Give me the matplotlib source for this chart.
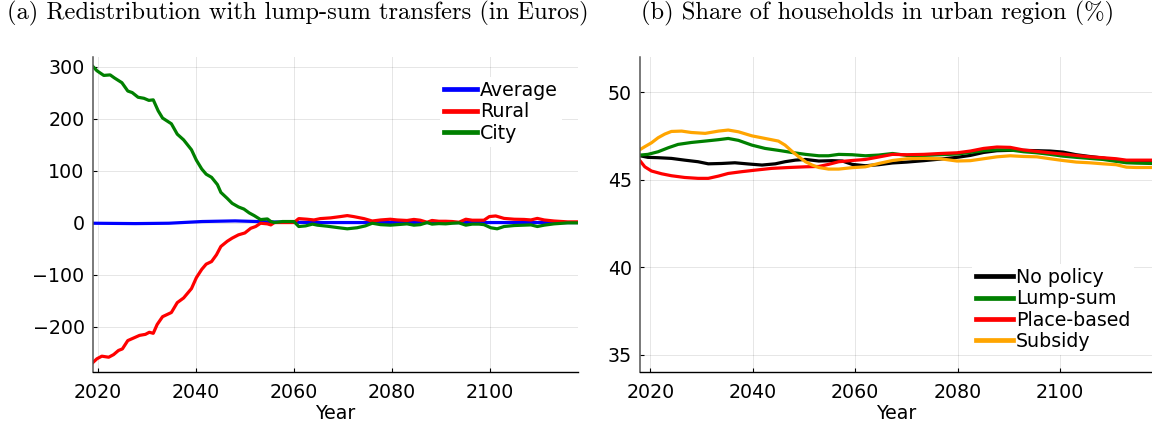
import matplotlib
matplotlib.use("Agg")
import matplotlib.pyplot as plt

# ---------------- Panel (a): redistribution (Euros) ----------------
years_avg = [2019, 2027.6, 2034.5, 2041.3, 2048, 2055, 2059.5, 2065, 2080, 2100, 2118]
avg = [-1.3, -2, -1.3, 2, 3.2, 1.3, 0.6, 0, 0, 0, 0]

years_rural = [2019, 2019.8, 2020.8, 2022.2, 2023.2, 2024.2, 2025, 2026.1, 2027.3, 2028.5,
               2029.7, 2030.5, 2031.3, 2032.1, 2033.2, 2035, 2036.2, 2037.5, 2039.1, 2040.1,
               2041.2, 2042.1, 2043.2, 2044.2, 2045.1, 2046.4, 2047.4, 2048.7, 2050, 2051.2,
               2052.2, 2053.2, 2054.6, 2055.3, 2056, 2057.7, 2060, 2061, 2062.7, 2064.1,
               2065.4, 2067.5, 2069.5, 2070.9, 2072.2, 2074.3, 2076, 2077.7, 2079.7, 2081.1,
               2083.1, 2084.5, 2085.8, 2087.2, 2088.2, 2089.6, 2091, 2092.3, 2093.7, 2095.1,
               2096.4, 2097.8, 2098.8, 2099.9, 2101.2, 2102.9, 2105, 2107, 2108.4, 2109.7,
               2111.1, 2113.1, 2115.9, 2118]
rural = [-269, -262, -257, -259, -254, -246, -243, -227, -222, -217,
         -215, -211, -213, -196, -181, -173, -154, -145, -127, -106,
         -90, -80, -75, -62, -46, -36, -30, -23.6, -20, -11,
         -7.6, -1.3, -2.5, -4.5, 0, 0, 0, 7.6, 6.4, 5,
         7.6, 9, 11.5, 13.4, 11.5, 7.6, 3, 5, 6.4, 5,
         4, 6, 4.5, 0.6, 4, 2.5, 2.5, 2, 0.6, 6.4,
         4.5, 4.5, 4.5, 11.5, 12.7, 8, 6.4, 6, 5, 8,
         5, 3, 1.3, 1.3]

years_city = [2019, 2019.8, 2021.2, 2022.5, 2023.4, 2024.9, 2026.1, 2027, 2028.2, 2029.4,
              2030.4, 2031.3, 2032.3, 2033.2, 2035, 2036.2, 2037.5, 2039.1, 2040.1, 2041.2,
              2042.1, 2043.2, 2044.4, 2045.1, 2046.4, 2047.4, 2048.7, 2049.8, 2050.9, 2051.9,
              2053.2, 2054.6, 2055.3, 2056, 2057.7, 2060, 2061, 2062.4, 2063.8, 2064.8,
              2066.8, 2068.8, 2070.9, 2072.9, 2074.6, 2076, 2077.7, 2079.7, 2081.1, 2083.1,
              2084.5, 2085.8, 2087.2, 2088.2, 2089.6, 2091, 2092.3, 2093.7, 2095.1, 2096.4,
              2097.8, 2098.8, 2100.2, 2101.5, 2102.9, 2105, 2107, 2108.4, 2109.7, 2111.1,
              2113.1, 2115.9, 2118]
city = [300, 292, 283, 284, 278, 269, 253, 250, 241, 239,
        235, 236, 215, 201, 190, 170, 159, 140, 120, 103,
        93, 87, 73, 58, 46.5, 37, 30, 26, 18.5, 13.4,
        5.7, 7, 2, 0, 2, 2, -7.6, -6.4, -3, -5,
        -7, -9.5, -12, -10, -6.4, -1.3, -4, -5, -4, -2.5,
        -5, -4, 0, -3, -2, -2.5, -1.3, -0.6, -5, -3,
        -3, -4, -10, -12, -7.6, -5.7, -5, -4.5, -7.6, -5,
        -2.5, -0.6, -0.6]

labels_a = ["Average", "Rural", "City"]
colors_a = ["#0000ff", "#ff0000", "#008000"]

# ---------------- Panel (b): share of households in urban region ----------------
years_b_late = [2062, 2064.6, 2067.3, 2070.1, 2073.4, 2076.6, 2079.9, 2082.5, 2085.1, 2087.7,
                2090.3, 2092.9, 2095.5, 2098.1, 2100.6, 2103.2, 2105.8, 2108.4, 2111, 2113,
                2114.9, 2118]

years_nopol = [2018, 2019.5, 2021.5, 2024.1, 2026.7, 2029.3, 2031.3, 2033.9, 2036.5, 2039.2,
               2041.8, 2044.4, 2046.3, 2048.3, 2050.3, 2052.9, 2055.5, 2057.5, 2059.4] + years_b_late
nopol = [46.37, 46.28, 46.26, 46.22, 46.12, 46.03, 45.91, 45.93, 45.97, 45.90,
         45.84, 45.91, 46.03, 46.12, 46.16, 46.07, 46.09, 46.07, 45.88,
         45.80, 45.86, 45.96, 46.01, 46.09, 46.18, 46.28, 46.39, 46.56, 46.66,
         46.68, 46.68, 46.66, 46.64, 46.58, 46.43, 46.33, 46.24, 46.12, 46.03,
         46.01, 46.01]

years_lump = [2018, 2019.5, 2021.5, 2023.5, 2025.4, 2028, 2030.7, 2033.3, 2035.2, 2037.2,
              2039.8, 2042.4, 2045, 2047.6, 2050.3, 2052.9, 2054.8, 2056.8, 2059.4] + years_b_late
lump = [46.41, 46.45, 46.60, 46.83, 47.02, 47.13, 47.21, 47.29, 47.36, 47.25,
        46.98, 46.79, 46.68, 46.56, 46.45, 46.37, 46.37, 46.45, 46.43,
        46.37, 46.41, 46.50, 46.39, 46.39, 46.43, 46.47, 46.56, 46.66, 46.71,
        46.70, 46.60, 46.54, 46.45, 46.35, 46.28, 46.22, 46.16, 46.05, 45.97,
        45.95, 45.93]

years_place = [2018, 2018.9, 2020.2, 2022.2, 2024.1, 2026.7, 2029.3, 2031.3, 2033.3, 2035.2,
               2037.8, 2040.5, 2043.7, 2047, 2050.3, 2052.9, 2054.8, 2056.8, 2059.4] + years_b_late
place = [46.07, 45.74, 45.50, 45.34, 45.23, 45.13, 45.08, 45.08, 45.21, 45.36,
         45.46, 45.55, 45.65, 45.70, 45.74, 45.76, 45.88, 46.03, 46.10,
         46.16, 46.30, 46.45, 46.43, 46.45, 46.50, 46.54, 46.64, 46.79, 46.87,
         46.85, 46.70, 46.62, 46.54, 46.47, 46.39, 46.31, 46.26, 46.20, 46.12,
         46.12, 46.12]

years_subsidy = [2018, 2018.9, 2020.2, 2021.5, 2022.8, 2024.1, 2026.1, 2028, 2030.7, 2033.3,
                 2035.2, 2037.2, 2039.8, 2042.4, 2045, 2046.3, 2047.6, 2049, 2050.3, 2051.6,
                 2052.9, 2054.8, 2056.8, 2059.4] + years_b_late
subsidy = [46.73, 46.89, 47.11, 47.40, 47.61, 47.76, 47.78, 47.70, 47.65, 47.78,
           47.84, 47.74, 47.51, 47.36, 47.21, 46.98, 46.64, 46.31, 46.03, 45.84,
           45.70, 45.61, 45.61, 45.69,
           45.74, 45.93, 46.10, 46.20, 46.22, 46.20, 46.07, 46.09, 46.20, 46.31,
           46.37, 46.33, 46.31, 46.20, 46.10, 46.01, 45.97, 45.91, 45.86, 45.72,
           45.70, 45.70]

labels_b = ["No policy", "Lump-sum", "Place-based", "Subsidy"]
colors_b = ["#000000", "#008000", "#ff0000", "#ffa500"]

xticks = [2020, 2040, 2060, 2080, 2100]
yticks_a = [-200, -100, 0, 100, 200, 300]
yticks_b = [35, 40, 45, 50]

# ---------------- Figure ----------------
W, H = 1152, 425
fig = plt.figure(figsize=(W / 100, H / 100), dpi=100)
TICK_FS = 13.7
LW = 2.3


def style_axes(ax):
    for s in ["top", "right"]:
        ax.spines[s].set_visible(False)
    ax.spines["left"].set_color("#555555")
    ax.spines["bottom"].set_color("#000000")
    ax.spines["left"].set_linewidth(1.1)
    ax.spines["bottom"].set_linewidth(1.0)
    ax.grid(True, color="#000000", alpha=0.1, linewidth=0.7)
    ax.set_axisbelow(True)
    ax.tick_params(direction="in", length=3, width=0.8, labelsize=TICK_FS, pad=6,
                   colors="#000000")
    ax.tick_params(axis="x", pad=8)
    ax.set_xticks(xticks)
    ax.set_xlabel("Year", fontsize=TICK_FS, labelpad=1.5)


axL = fig.add_axes([93 / W, 1 - 372.3 / H, (578 - 93) / W, (372.3 - 56.7) / H])
style_axes(axL)
axL.plot(years_avg, avg, color=colors_a[0], lw=LW, label=labels_a[0])
axL.plot(years_rural, rural, color=colors_a[1], lw=LW, label=labels_a[1])
axL.plot(years_city, city, color=colors_a[2], lw=LW, label=labels_a[2])
axL.set_xlim(2019, 2118)
axL.set_ylim(-288, 319)
axL.set_yticks(yticks_a)
legL = axL.legend(loc="upper right", bbox_to_anchor=(0.966, 0.935), fontsize=TICK_FS,
                  frameon=True, facecolor="white", edgecolor="none", framealpha=1,
                  fancybox=False, handlelength=1.75, handletextpad=0.15,
                  labelspacing=0.13, borderpad=0.2, borderaxespad=0)
for line in legL.get_lines():
    line.set_linewidth(3.4)

axR = fig.add_axes([640.2 / W, 1 - 372.3 / H, (W - 640.2) / W, (372.3 - 56.7) / H])
style_axes(axR)
axR.plot(years_nopol, nopol, color=colors_b[0], lw=LW, label=labels_b[0])
axR.plot(years_lump, lump, color=colors_b[1], lw=LW, label=labels_b[1])
axR.plot(years_place, place, color=colors_b[2], lw=LW, label=labels_b[2])
axR.plot(years_subsidy, subsidy, color=colors_b[3], lw=LW, label=labels_b[3])
axR.set_xlim(2018, 2118)
axR.set_ylim(34, 52.03)
axR.set_yticks(yticks_b)
legR = axR.legend(loc="lower right", bbox_to_anchor=(0.965, 0.055), fontsize=TICK_FS,
                  frameon=True, facecolor="white", edgecolor="none", framealpha=1,
                  fancybox=False, handlelength=1.95, handletextpad=0.15,
                  labelspacing=0.13, borderpad=0.2, borderaxespad=0)
for line in legR.get_lines():
    line.set_linewidth(3.4)

TITLE_FS = 17.7
fig.text(298 / W, 1 - 13 / H, "(a) Redistribution with lump-sum transfers (in Euros)",
         family="cmr10", fontsize=TITLE_FS, ha="center", va="center")
fig.text(878 / W, 1 - 13 / H, "(b) Share of households in urban region (%)",
         family="cmr10", fontsize=TITLE_FS, ha="center", va="center")

fig.savefig("out.png", dpi=100)
